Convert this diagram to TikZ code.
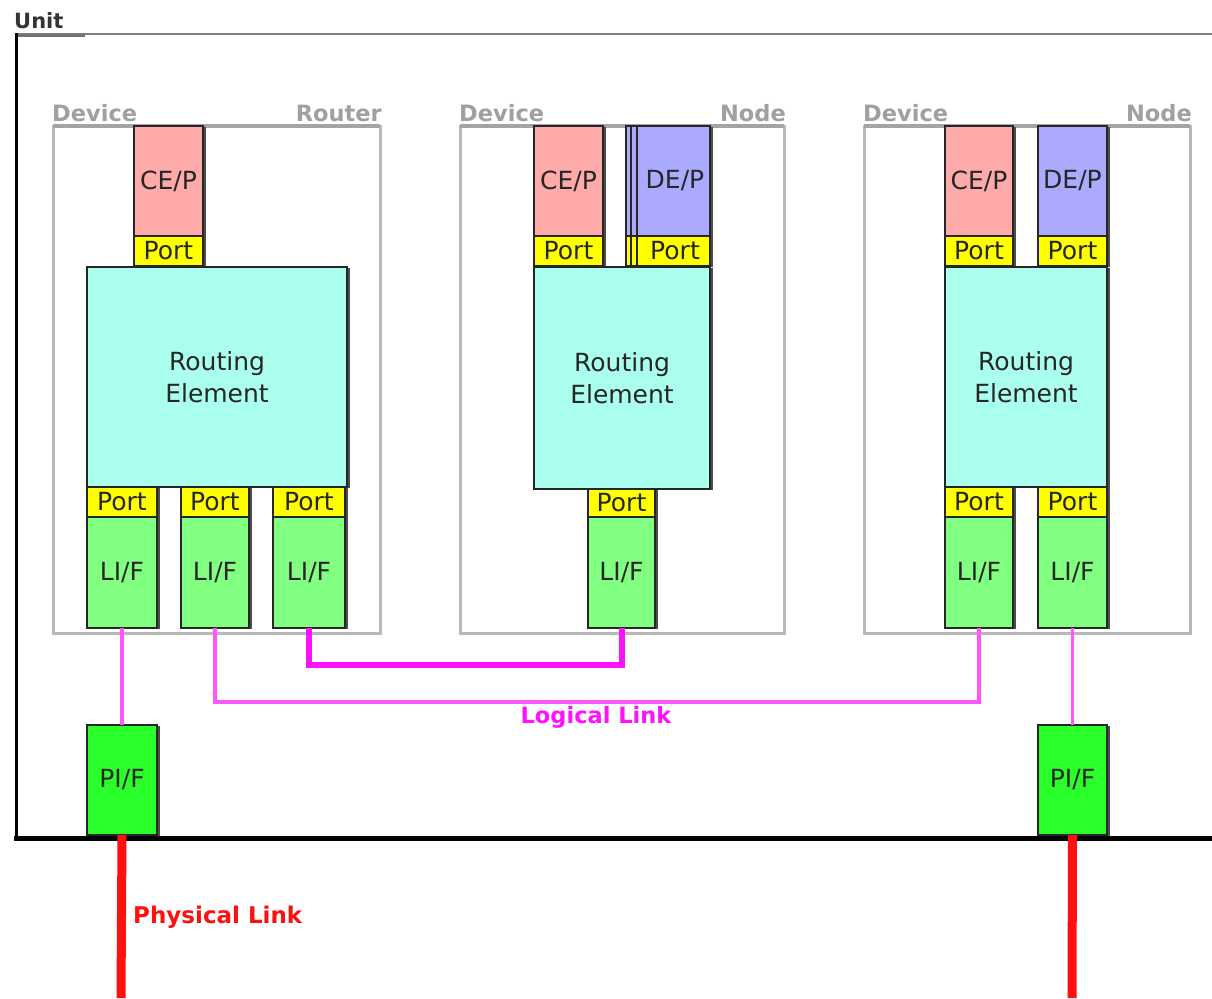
\documentclass[tikz,border=0pt]{standalone}
\usepackage{fontspec}
\setmainfont{DejaVu Sans}
\usetikzlibrary{shadows}
\definecolor{cepc}{HTML}{FFAAAA}
\definecolor{depc}{HTML}{AAAAFF}
\definecolor{portc}{HTML}{FFFF00}
\definecolor{rec}{HTML}{AAFFEE}
\definecolor{lifc}{HTML}{80FF80}
\definecolor{pifc}{HTML}{2BFF2B}
\definecolor{devc}{HTML}{B8B8B8}
\definecolor{devtop}{HTML}{A4A4A4}
\definecolor{devlab}{HTML}{A0A0A0}
\definecolor{lmag}{HTML}{FF55FF}
\definecolor{lmagd}{HTML}{FF11FF}
\definecolor{plred}{HTML}{FF1010}
\newcommand\mkbox[7]{\node[#1, minimum width={(#5-#3)*1pt}, minimum height={(#6-#4)*1pt}] (#2) at (#3,#4) {#7};}
\begin{document}
\begin{tikzpicture}[x=1pt,y=-1pt,
  comp/.style={draw=black!85, line width=1.5pt, inner sep=0pt, outer sep=0pt,
    anchor=north west, align=center, text=black!85,
    font=\fontsize{25}{32}\selectfont,
    drop shadow={shadow xshift=3pt, shadow yshift=-1pt, fill=black!70, opacity=1}},
  cep/.style={comp, fill=cepc},
  dep/.style={comp, fill=depc},
  port/.style={comp, fill=portc},
  rel/.style={comp, fill=rec},
  lif/.style={comp, fill=lifc},
  pif/.style={comp, fill=pifc},
  dev/.style={draw=devc, line width=3pt, inner sep=0pt, outer sep=0pt, anchor=north west},
  devtopline/.style={draw=devtop, line width=4pt},
  devlabel/.style={text=devlab, font=\fontsize{22.5}{24}\selectfont\bfseries, inner sep=0pt},
  llink/.style={draw=lmag, line width=3.5pt},
  llinkd/.style={draw=lmagd, line width=6pt},
  plink/.style={draw=plred, line width=9pt}
]
\useasboundingbox (0,0) rectangle (1212,998);
\fill[white] (0,0) rectangle (1212,998);
% Unit frame
\node[anchor=south west, inner sep=0pt, text=black!80, font=\fontsize{21}{24}\selectfont\bfseries] (unitlab) at (14,29) {Unit};
\draw[draw=black!50, line width=1.5pt] (15,34) -- (1212,34);
\draw[draw=black!55, line width=3pt] (15,36) -- (85,36);
\draw[draw=black, line width=3pt] (16,33) -- (16,840);
\draw[draw=black, line width=5pt] (14,838) -- (1212,838);
% Device 1
\mkbox{dev}{dev1}{53}{126}{380}{633}{}
\draw[devtopline] (dev1.north west) -- (dev1.north east);
\node[devlabel, anchor=south west] (dev1a) at (52,122) {Device};
\node[devlabel, anchor=south east] (dev1b) at (382,122) {Router};
\mkbox{cep}{cep1}{134}{126}{203}{236}{CE/P}
\mkbox{port}{pt1}{134}{236}{203}{266}{Port}
\mkbox{rel}{re1}{87}{267}{347}{487}{Routing\\Element}
\mkbox{port}{p11}{87}{487}{157}{517}{Port}
\mkbox{lif}{lif11}{87}{517}{157}{628}{LI/F}
\mkbox{port}{p12}{181}{487}{249}{517}{Port}
\mkbox{lif}{lif12}{181}{517}{249}{628}{LI/F}
\mkbox{port}{p13}{273}{487}{345}{517}{Port}
\mkbox{lif}{lif13}{273}{517}{345}{628}{LI/F}
% Device 2
\mkbox{dev}{dev2}{460}{126}{784}{633}{}
\draw[devtopline] (dev2.north west) -- (dev2.north east);
\node[devlabel, anchor=south west] (dev2a) at (459,122) {Device};
\node[devlabel, anchor=south east] (dev2b) at (786,122) {Node};
\mkbox{cep}{cep2}{534}{126}{603}{236}{CE/P}
\mkbox{port}{ptc2}{534}{236}{603}{266}{Port}
\mkbox{dep}{dep2}{626}{126}{710}{236}{\hspace*{14pt}DE/P}
\mkbox{port}{ptd2}{626}{236}{710}{266}{\hspace*{14pt}Port}
\draw[draw=black!85, line width=1.2pt] ([xshift=5pt]dep2.north west) -- ([xshift=5pt]ptd2.south west);
\draw[draw=black!85, line width=1.2pt] ([xshift=11pt]dep2.north west) -- ([xshift=11pt]ptd2.south west);
\mkbox{rel}{re2}{534}{267}{710}{489}{Routing\\Element}
\mkbox{port}{p21}{588}{489}{655}{517}{Port}
\mkbox{lif}{lif21}{588}{517}{655}{628}{LI/F}
% Device 3
\mkbox{dev}{dev3}{864}{126}{1190}{633}{}
\draw[devtopline] (dev3.north west) -- (dev3.north east);
\node[devlabel, anchor=south west] (dev3a) at (863,122) {Device};
\node[devlabel, anchor=south east] (dev3b) at (1192,122) {Node};
\mkbox{cep}{cep3}{945}{126}{1013}{236}{CE/P}
\mkbox{port}{ptc3}{945}{236}{1013}{266}{Port}
\mkbox{dep}{dep3}{1038}{126}{1107}{236}{DE/P}
\mkbox{port}{ptd3}{1038}{236}{1107}{266}{Port}
\mkbox{rel}{re3}{945}{267}{1107}{487}{Routing\\Element}
\mkbox{port}{p31}{945}{487}{1013}{517}{Port}
\mkbox{lif}{lif31}{945}{517}{1013}{628}{LI/F}
\mkbox{port}{p32}{1038}{487}{1107}{517}{Port}
\mkbox{lif}{lif32}{1038}{517}{1107}{628}{LI/F}
% Physical interfaces
\mkbox{pif}{pif1}{87}{725}{157}{835}{PI/F}
\mkbox{pif}{pif2}{1038}{725}{1107}{835}{PI/F}
% Logical links
\draw[llink] (lif11.south) -- (pif1.north);
\draw[llink] (lif32.south) -- (pif2.north);
\draw[llink] (lif12.south) -- ++(0,74) -| (lif31.south);
\draw[llinkd] (lif13.south) -- ++(0,37) -| (lif21.south);
\node[text=lmagd, font=\fontsize{22.5}{24}\selectfont\bfseries, inner sep=0pt] (lllab) at (596,717) {Logical Link};
% Physical links
\coordinate (pl1end) at (121,998);
\coordinate (pl2end) at (1072,998);
\draw[plink] (pif1.south) -- (pl1end);
\draw[plink] (pif2.south) -- (pl2end);
\node[text=plred, font=\fontsize{23}{24}\selectfont\bfseries, inner sep=0pt, anchor=west] (pllab) at (133,917) {Physical Link};
\end{tikzpicture}
\end{document}
